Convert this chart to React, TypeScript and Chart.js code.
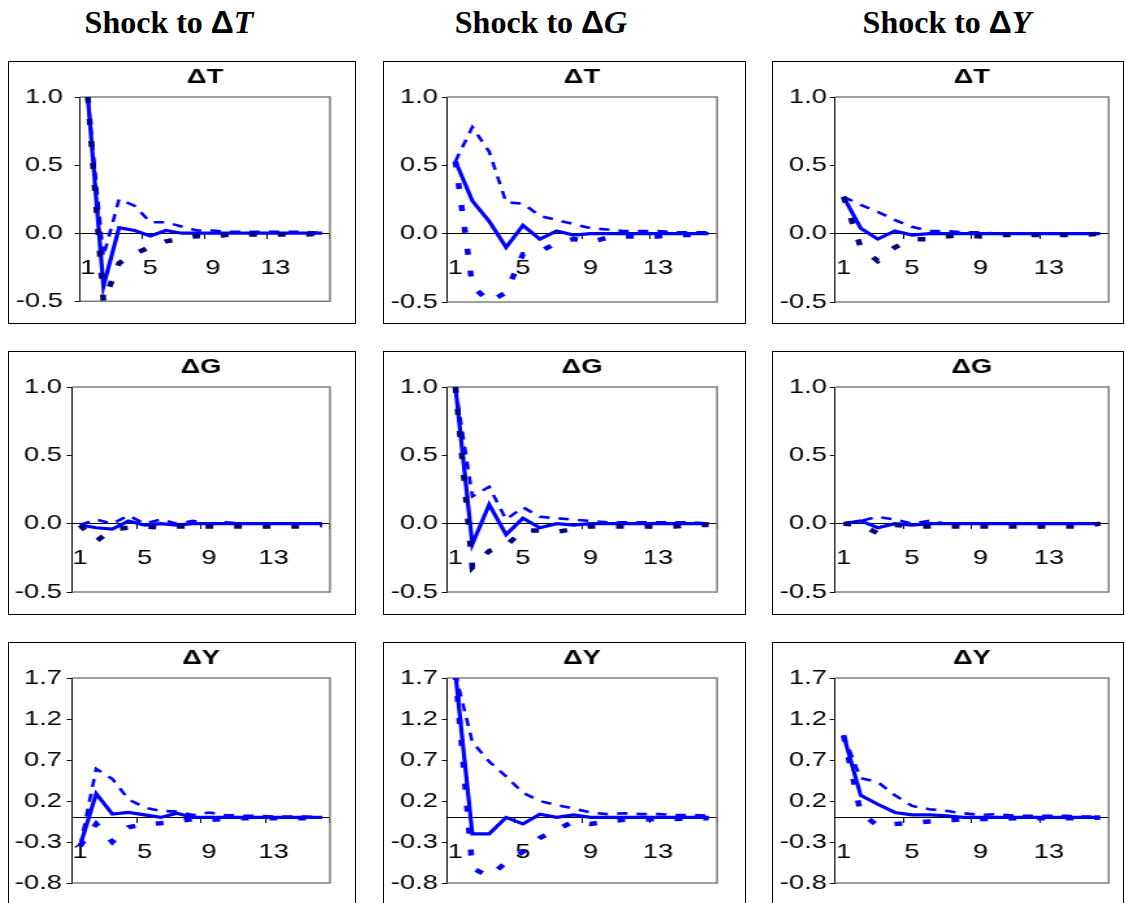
import React, { useEffect, useRef } from "react";
import { Chart, registerables } from "chart.js";

Chart.register(...registerables);

// ---------- data ----------
const periods = ["1", "2", "3", "4", "5", "6", "7", "8", "9", "10", "11", "12", "13", "14", "15", "16"];
const shownPeriods = ["1", "5", "9", "13"];
const yTicksTG = [-0.5, 0.0, 0.5, 1.0];
const yTicksY = [-0.8, -0.3, 0.2, 0.7, 1.2, 1.7];

const headers = ["T", "G", "Y"];

// Shock to ΔT -> response ΔT
const tT_mid = [1.0, -0.39, 0.04, 0.02, -0.02, 0.02, 0.0, 0.0, 0.0, 0.0, 0.0, 0.0, 0.0, 0.0, 0.0, 0.0];
const tT_up = [1.0, -0.17, 0.25, 0.2, 0.08, 0.08, 0.05, 0.02, 0.02, 0.01, 0.01, 0.01, 0.01, 0.01, 0.01, 0.0];
const tT_lo = [1.0, -0.5, -0.22, -0.15, -0.1, -0.06, -0.04, -0.02, -0.03, -0.01, -0.01, -0.01, -0.01, -0.01, -0.01, 0.0];

// Shock to ΔG -> response ΔT
const gT_mid = [0.53, 0.24, 0.09, -0.1, 0.06, -0.04, 0.02, -0.01, 0.0, 0.0, 0.0, 0.0, 0.0, 0.0, 0.0, 0.0];
const gT_up = [0.53, 0.78, 0.6, 0.23, 0.22, 0.13, 0.1, 0.07, 0.04, 0.03, 0.02, 0.02, 0.02, 0.01, 0.01, 0.01];
const gT_lo = [0.53, -0.38, -0.5, -0.43, -0.15, -0.13, -0.07, -0.04, -0.06, -0.03, -0.02, -0.02, -0.02, -0.01, -0.01, 0.0];

// Shock to ΔY -> response ΔT
const yT_mid = [0.27, 0.04, -0.04, 0.02, -0.01, 0.0, 0.0, 0.0, 0.0, 0.0, 0.0, 0.0, 0.0, 0.0, 0.0, 0.0];
const yT_up = [0.27, 0.21, 0.16, 0.1, 0.05, 0.02, 0.02, 0.01, 0.01, 0.0, 0.0, 0.0, 0.0, 0.0, 0.0, 0.0];
const yT_lo = [0.27, -0.1, -0.2, -0.1, -0.04, -0.04, -0.02, -0.01, -0.02, -0.01, -0.01, -0.01, -0.01, -0.01, -0.01, 0.0];

// Shock to ΔT -> response ΔG
const tG_mid = [-0.01, -0.03, -0.04, 0.02, -0.01, 0.0, -0.01, 0.0, 0.0, 0.0, 0.0, 0.0, 0.0, 0.0, 0.0, 0.0];
const tG_up = [-0.01, 0.03, 0.0, 0.06, 0.0, 0.03, 0.0, 0.02, 0.0, 0.01, 0.0, 0.0, 0.0, 0.0, 0.0, 0.0];
const tG_lo = [-0.01, -0.13, -0.04, -0.03, -0.02, -0.03, -0.02, -0.02, -0.02, -0.02, -0.02, -0.02, -0.02, -0.02, -0.02, -0.01];

// Shock to ΔG -> response ΔG
const gG_mid = [1.0, -0.15, 0.14, -0.08, 0.04, -0.03, 0.0, -0.01, 0.0, 0.0, 0.0, 0.0, 0.0, 0.0, 0.0, 0.0];
const gG_up = [1.0, 0.2, 0.27, 0.03, 0.12, 0.05, 0.04, 0.03, 0.02, 0.01, 0.01, 0.01, 0.01, 0.01, 0.01, 0.0];
const gG_lo = [1.0, -0.32, -0.2, -0.16, -0.05, -0.05, -0.06, -0.04, -0.02, -0.02, -0.02, -0.02, -0.02, -0.02, -0.01, -0.01];

// Shock to ΔY -> response ΔG
const yG_mid = [0.0, 0.02, -0.03, 0.0, -0.01, 0.0, 0.0, 0.0, 0.0, 0.0, 0.0, 0.0, 0.0, 0.0, 0.0, 0.0];
const yG_up = [0.0, 0.02, 0.05, 0.03, 0.0, 0.02, 0.0, 0.0, 0.0, 0.0, 0.0, 0.0, 0.0, 0.0, 0.0, 0.0];
const yG_lo = [0.0, -0.01, -0.07, -0.01, -0.02, -0.02, -0.02, -0.02, -0.02, -0.02, -0.02, -0.02, -0.02, -0.02, -0.02, 0.0];

// Shock to ΔT -> response ΔY
const tY_mid = [-0.35, 0.29, 0.04, 0.06, 0.03, 0.0, 0.05, 0.0, 0.0, 0.0, 0.0, 0.0, 0.0, 0.0, 0.0, 0.0];
const tY_up = [-0.35, 0.59, 0.47, 0.22, 0.12, 0.08, 0.07, 0.03, 0.06, 0.03, 0.02, 0.02, 0.01, 0.01, 0.01, 0.0];
const tY_lo = [-0.35, -0.08, -0.3, -0.12, -0.08, -0.07, -0.05, -0.02, -0.03, -0.02, -0.01, -0.01, -0.01, -0.01, -0.01, -0.01];

// Shock to ΔG -> response ΔY
const gY_mid = [1.75, -0.2, -0.2, 0.0, -0.08, 0.04, 0.0, 0.03, 0.0, 0.0, 0.0, 0.0, 0.0, 0.0, 0.0, 0.0];
const gY_up = [1.75, 0.92, 0.68, 0.5, 0.3, 0.2, 0.15, 0.11, 0.06, 0.04, 0.05, 0.04, 0.04, 0.03, 0.03, 0.02];
const gY_lo = [1.75, -0.62, -0.72, -0.55, -0.42, -0.25, -0.15, -0.05, -0.08, -0.05, -0.03, -0.03, -0.02, -0.02, -0.01, -0.01];

// Shock to ΔY -> response ΔY
const yY_mid = [1.0, 0.27, 0.16, 0.06, 0.03, 0.03, 0.02, 0.0, 0.0, 0.0, 0.0, 0.0, 0.0, 0.0, 0.0, 0.0];
const yY_up = [1.0, 0.48, 0.43, 0.27, 0.14, 0.1, 0.08, 0.05, 0.03, 0.04, 0.02, 0.02, 0.02, 0.02, 0.01, 0.01];
const yY_lo = [1.0, 0.05, -0.1, -0.08, -0.07, -0.05, -0.04, -0.02, -0.02, -0.02, -0.01, -0.01, -0.01, -0.01, -0.01, 0.0];

// ---------- styling / layout ----------
const BLUE = "#0000FF";
const NAVY = "#000080";
const SX = 1.3; // horizontal stretch of the chart images
const FONT = 'Arial, "Liberation Sans", sans-serif';

const colLeft = [8, 383, 772];
const colWidth = [348, 363, 352];
const rowTop = [61, 351, 642];
const rowHeight = [263, 264, 290];
const headerCenter = [169, 541, 947];

// plot-area geometry relative to the canvas (real px)
const plotLeftReal = [[71, 63, 62], [63, 63, 62], [63, 63, 62]];
const plotRightReal = [321, 333, 337];
const labelGapReal = [[17, 9, 8], [10, 9, 8], [10, 9, 8]];
const plotTop = 35;
const plotBottom = 240;

type PanelSpec = {
  row: number;
  col: number;
  title: string;
  mid: number[];
  up: number[];
  lo: number[];
  loColor: string;
  yTicks: number[];
};

const panels: PanelSpec[] = [
  { row: 0, col: 0, title: "ΔT", mid: tT_mid, up: tT_up, lo: tT_lo, loColor: NAVY, yTicks: yTicksTG },
  { row: 0, col: 1, title: "ΔT", mid: gT_mid, up: gT_up, lo: gT_lo, loColor: BLUE, yTicks: yTicksTG },
  { row: 0, col: 2, title: "ΔT", mid: yT_mid, up: yT_up, lo: yT_lo, loColor: NAVY, yTicks: yTicksTG },
  { row: 1, col: 0, title: "ΔG", mid: tG_mid, up: tG_up, lo: tG_lo, loColor: NAVY, yTicks: yTicksTG },
  { row: 1, col: 1, title: "ΔG", mid: gG_mid, up: gG_up, lo: gG_lo, loColor: NAVY, yTicks: yTicksTG },
  { row: 1, col: 2, title: "ΔG", mid: yG_mid, up: yG_up, lo: yG_lo, loColor: NAVY, yTicks: yTicksTG },
  { row: 2, col: 0, title: "ΔY", mid: tY_mid, up: tY_up, lo: tY_lo, loColor: BLUE, yTicks: yTicksY },
  { row: 2, col: 1, title: "ΔY", mid: gY_mid, up: gY_up, lo: gY_lo, loColor: BLUE, yTicks: yTicksY },
  { row: 2, col: 2, title: "ΔY", mid: yY_mid, up: yY_up, lo: yY_lo, loColor: BLUE, yTicks: yTicksY },
];

const framePlugin = {
  id: "plotFrame",
  beforeDatasetsDraw(chart: any) {
    const { ctx, chartArea: a } = chart;
    ctx.save();
    ctx.strokeStyle = "#808080";
    ctx.lineWidth = 1.5;
    ctx.beginPath();
    ctx.moveTo(a.left, a.top);
    ctx.lineTo(a.right, a.top);
    ctx.lineTo(a.right, a.bottom);
    ctx.lineTo(a.left, a.bottom);
    ctx.stroke();
    ctx.restore();
  },
};

function Panel({ spec }: { spec: PanelSpec }) {
  const ref = useRef<HTMLCanvasElement>(null);
  const W = colWidth[spec.col];
  const H = rowHeight[spec.row];
  const innerW = Math.round((W - 2) / SX);
  const innerH = H - 2;

  useEffect(() => {
    if (!ref.current) return;
    const yW = plotLeftReal[spec.row][spec.col] / SX;
    const padRight = innerW - plotRightReal[spec.col] / SX;
    const tickLen = 4;
    const yPad = labelGapReal[spec.row][spec.col] / SX - tickLen;
    const chart = new Chart(ref.current, {
      type: "line",
      data: {
        labels: periods,
        datasets: [
          {
            data: spec.lo,
            borderColor: spec.loColor,
            borderWidth: 4.5,
            borderDash: [6, 16],
            borderCapStyle: "butt",
            pointRadius: 0,
            tension: 0,
            fill: false,
          },
          {
            data: spec.up,
            borderColor: BLUE,
            borderWidth: 2.6,
            borderDash: [8, 7],
            borderCapStyle: "butt",
            pointRadius: 0,
            tension: 0,
            fill: false,
          },
          {
            data: spec.mid,
            borderColor: BLUE,
            borderWidth: 3.2,
            pointRadius: 0,
            tension: 0,
            fill: false,
          },
        ],
      },
      options: {
        animation: false,
        responsive: true,
        maintainAspectRatio: false,
        events: [],
        layout: {
          padding: { left: 0, right: padRight, top: 0, bottom: innerH - plotBottom },
        },
        plugins: {
          legend: { display: false },
          tooltip: { enabled: false },
          title: {
            display: true,
            text: spec.title,
            fullSize: false,
            color: "#000",
            font: { family: FONT, size: 21, weight: "bold", lineHeight: 1.2 },
            padding: { top: 3, bottom: plotTop - 3 - 25.2 },
          },
        },
        scales: {
          x: {
            type: "category",
            position: { y: 0 },
            offset: true,
            grid: {
              offset: true,
              drawOnChartArea: false,
              drawTicks: true,
              tickLength: 5,
              lineWidth: 1,
              tickColor: (ctx: any) =>
                ctx.index === undefined || shownPeriods.includes(periods[ctx.index]) ? "#000" : "rgba(0,0,0,0)",
            },
            border: { display: true, color: "#000", width: 1 },
            ticks: {
              autoSkip: false,
              maxRotation: 0,
              minRotation: 0,
              padding: 17,
              color: "#000",
              font: { family: FONT, size: 21 },
              callback: (_v: any, i: number) => (shownPeriods.includes(periods[i]) ? periods[i] : ""),
            },
          },
          y: {
            type: "linear",
            min: spec.yTicks[0],
            max: spec.yTicks[spec.yTicks.length - 1],
            afterBuildTicks: (scale: any) => {
              scale.ticks = spec.yTicks.map((v) => ({ value: v }));
            },
            afterFit: (scale: any) => {
              scale.width = yW;
            },
            grid: { drawOnChartArea: false, drawTicks: true, tickLength: tickLen, color: "#000", lineWidth: 1 },
            border: { display: true, color: "#000", width: 1 },
            ticks: {
              padding: yPad,
              color: "#000",
              font: { family: FONT, size: 21 },
              callback: (v: any) => Number(v).toFixed(1),
            },
          },
        },
      },
      plugins: [framePlugin],
    } as any);
    return () => chart.destroy();
  }, []);

  return (
    <div
      style={{
        position: "absolute",
        left: colLeft[spec.col],
        top: rowTop[spec.row],
        width: W,
        height: H,
        border: "1px solid #000",
        boxSizing: "border-box",
        overflow: "hidden",
        background: "#fff",
      }}
    >
      <div
        style={{
          position: "absolute",
          left: 0,
          top: 0,
          width: innerW,
          height: innerH,
          transform: `scaleX(${SX})`,
          transformOrigin: "0 0",
        }}
      >
        <canvas ref={ref} />
      </div>
    </div>
  );
}

export default function App() {
  return (
    <div
      style={{
        position: "fixed",
        left: 0,
        top: 0,
        width: 1126,
        height: 903,
        overflow: "hidden",
        background: "#fff",
      }}
    >
      {headers.map((h, i) => (
        <div
          key={h}
          style={{
            position: "absolute",
            left: headerCenter[i] - 150,
            top: 5,
            width: 300,
            textAlign: "center",
            fontFamily: '"Liberation Serif", "Times New Roman", serif',
            fontWeight: "bold",
            fontSize: 32,
            lineHeight: "34px",
            color: "#000",
            whiteSpace: "nowrap",
          }}
        >
          Shock to <span style={{ fontFamily: '"Liberation Sans", Arial, sans-serif' }}>Δ</span>
          <i>{h}</i>
        </div>
      ))}
      {panels.map((p, i) => (
        <Panel key={i} spec={p} />
      ))}
    </div>
  );
}
